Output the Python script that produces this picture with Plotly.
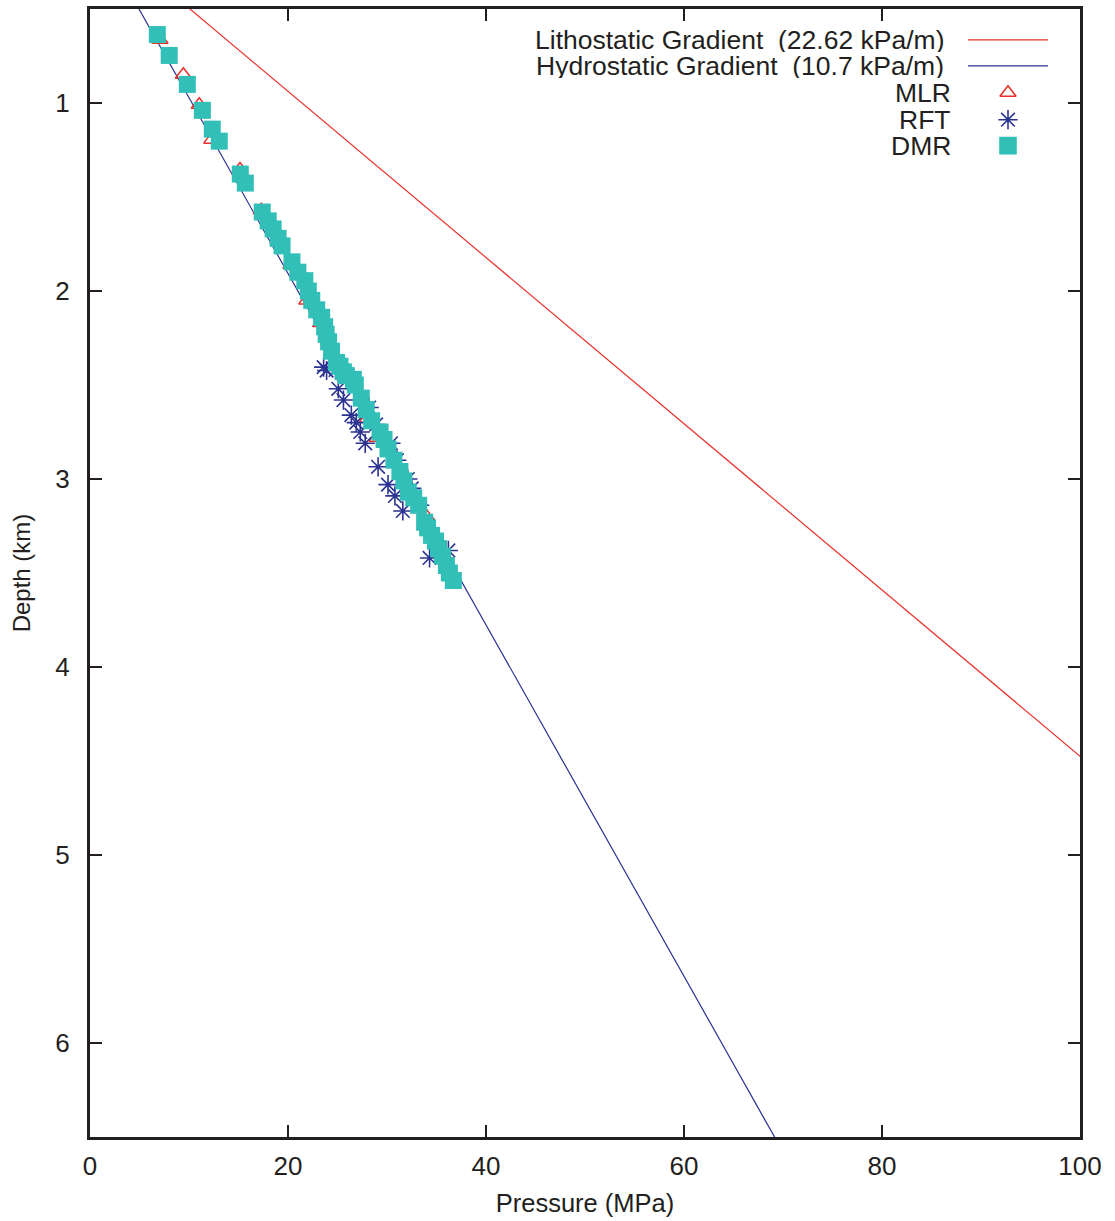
import plotly.graph_objects as go

# Pressure (MPa) and depth (km) of the measured points
mlr_p = [7.07, 9.43, 11.04, 12.3, 15.15, 17.3, 19.0, 20.3, 21.9, 23.3, 25.6, 28.0, 29.0, 31.5, 34.0, 36.0]
mlr_d = [0.664, 0.85, 1.009, 1.195, 1.354, 1.57, 1.73, 1.86, 2.05, 2.17, 2.41, 2.68, 2.78, 2.98, 3.2, 3.45]

rft_p = [23.6, 23.9, 25.08, 25.6, 26.4, 26.9, 27.3, 27.8, 28.2, 28.9, 29.1, 30.1, 30.8, 30.4,
         31.0, 31.6, 32.1, 32.5, 33.3, 34.3, 36.2, 24.8]
rft_d = [2.405, 2.423, 2.52, 2.58, 2.66, 2.70, 2.75, 2.81, 2.62, 2.71, 2.935, 3.03, 3.09, 2.81,
         2.90, 3.17, 3.0, 3.05, 3.14, 3.42, 3.38, 2.42]

dmr_p = [6.80, 8.0, 9.83, 11.35, 12.35, 13.06, 15.18, 15.69, 17.4, 18.0, 18.5, 19.0, 19.4, 20.4,
         21.0, 21.7, 22.05, 22.4, 22.9, 23.4, 23.7, 23.85, 24.1, 24.4, 24.9, 25.25, 25.6, 25.9,
         26.6, 26.8, 27.4, 27.9, 28.45, 29.3, 29.7, 30.1, 30.7, 31.3, 31.7, 32.15, 32.7, 33.2,
         33.8, 34.1, 34.5, 34.9, 35.2, 35.6, 36.0, 36.3, 36.7]
dmr_d = [0.636, 0.747, 0.901, 1.039, 1.139, 1.203, 1.378, 1.426, 1.58, 1.627, 1.67, 1.72, 1.76, 1.845,
         1.90, 1.945, 2.0, 2.05, 2.10, 2.14, 2.19, 2.23, 2.27, 2.32, 2.38, 2.40, 2.43, 2.45,
         2.47, 2.50, 2.57, 2.63, 2.69, 2.75, 2.79, 2.84, 2.90, 2.96, 3.01, 3.07, 3.10, 3.14,
         3.23, 3.26, 3.30, 3.33, 3.37, 3.41, 3.46, 3.50, 3.54]

# Gradient lines: pressure (MPa) = gradient (kPa/m = MPa/km) * depth + offset
litho_grad, litho_off = 22.62, -1.21
hydro_grad, hydro_off = 10.7, -0.4
line_depths = [0.0, 7.0]

x_ticks = [0, 20, 40, 60, 80, 100]
y_ticks = [1, 2, 3, 4, 5, 6]

RED = "#e8302a"
NAVY = "#2b3290"
TEAL = "#31bfb7"
INK = "#231f20"
FONT = "Liberation Sans, Arial, sans-serif"

fig = go.Figure()

fig.add_trace(go.Scatter(
    x=[litho_grad * d + litho_off for d in line_depths], y=line_depths,
    mode="lines", line=dict(color=RED, width=1.2), showlegend=False))
fig.add_trace(go.Scatter(
    x=[hydro_grad * d + hydro_off for d in line_depths], y=line_depths,
    mode="lines", line=dict(color=NAVY, width=1.2), showlegend=False))

fig.add_trace(go.Scatter(
    x=mlr_p, y=mlr_d, mode="markers", showlegend=False,
    marker=dict(symbol="triangle-up-open", size=14, color=RED, line=dict(width=1.5, color=RED))))
fig.add_trace(go.Scatter(
    x=rft_p, y=rft_d, mode="markers", showlegend=False,
    marker=dict(symbol="asterisk-open", size=16, color=NAVY, line=dict(width=1.6, color=NAVY))))
fig.add_trace(go.Scatter(
    x=dmr_p, y=dmr_d, mode="markers", showlegend=False,
    marker=dict(symbol="square", size=17, color=TEAL, line=dict(width=0))))

# Key in the upper right corner: right-aligned labels with samples to their right
W, H = 1115, 1221
L, R, T, B = 90, 35, 6, 84
pw, ph = W - L - R, H - T - B


def px_x(x):
    return (x - L) / pw


def px_y(y):
    return (H - B - y) / ph


key_rows = [
    ("Lithostatic Gradient  (22.62 kPa/m)", 37, 945, "line", RED),
    ("Hydrostatic Gradient  (10.7 kPa/m)", 63, 945, "line", NAVY),
    ("MLR", 90, 952, "triangle-up-open", RED),
    ("RFT", 117, 952, "asterisk-open", NAVY),
    ("DMR", 143, 952, "square", TEAL),
]

annotations = []
shapes = []
for label, ypx, right, kind, color in key_rows:
    annotations.append(dict(
        text=label, xref="paper", yref="paper", x=px_x(right), y=px_y(ypx),
        xanchor="right", yanchor="middle", showarrow=False,
        height=24, valign="middle", borderpad=0,
        font=dict(family=FONT, size=26.5, color=INK)))
    if kind == "line":
        shapes.append(dict(
            type="line", xref="paper", yref="paper",
            x0=px_x(968), x1=px_x(1048), y0=px_y(ypx), y1=px_y(ypx),
            line=dict(color=color, width=1.2)))
    else:
        fig.add_trace(go.Scatter(
            x=[px_x(1008)], y=[px_y(ypx)], xaxis="x2", yaxis="y2",
            mode="markers", showlegend=False, hoverinfo="skip",
            marker=dict(symbol=kind, size=16 if kind != "triangle-up-open" else 14,
                        color=color, line=dict(width=1.6, color=color))))

axis_common = dict(
    showline=True, linecolor=INK, linewidth=3, mirror="ticks",
    ticks="inside", ticklen=12, tickwidth=2, tickcolor=INK,
    showgrid=False, zeroline=False,
    tickfont=dict(family=FONT, size=26, color=INK),
)

fig.update_layout(
    width=W, height=H,
    margin=dict(l=L, r=R, t=T, b=B),
    paper_bgcolor="white", plot_bgcolor="white",
    showlegend=False,
    xaxis=dict(range=[0, 100], tickvals=x_ticks, ticktext=[str(v) for v in x_ticks],
               ticklabelstandoff=4,
               title=dict(text="Pressure (MPa)", standoff=14,
                          font=dict(family=FONT, size=25.5, color=INK)),
               **axis_common),
    yaxis=dict(range=[6.5, 0.5], tickvals=y_ticks, ticktext=[str(v) for v in y_ticks],
               ticklabelstandoff=12,
               title=dict(text="Depth (km)", standoff=18,
                          font=dict(family=FONT, size=24, color=INK)),
               **axis_common),
    xaxis2=dict(range=[0, 1], overlaying="x", visible=False, fixedrange=True),
    yaxis2=dict(range=[0, 1], overlaying="y", visible=False, fixedrange=True),
    annotations=annotations,
    shapes=shapes,
)

fig.write_html("out.html")
